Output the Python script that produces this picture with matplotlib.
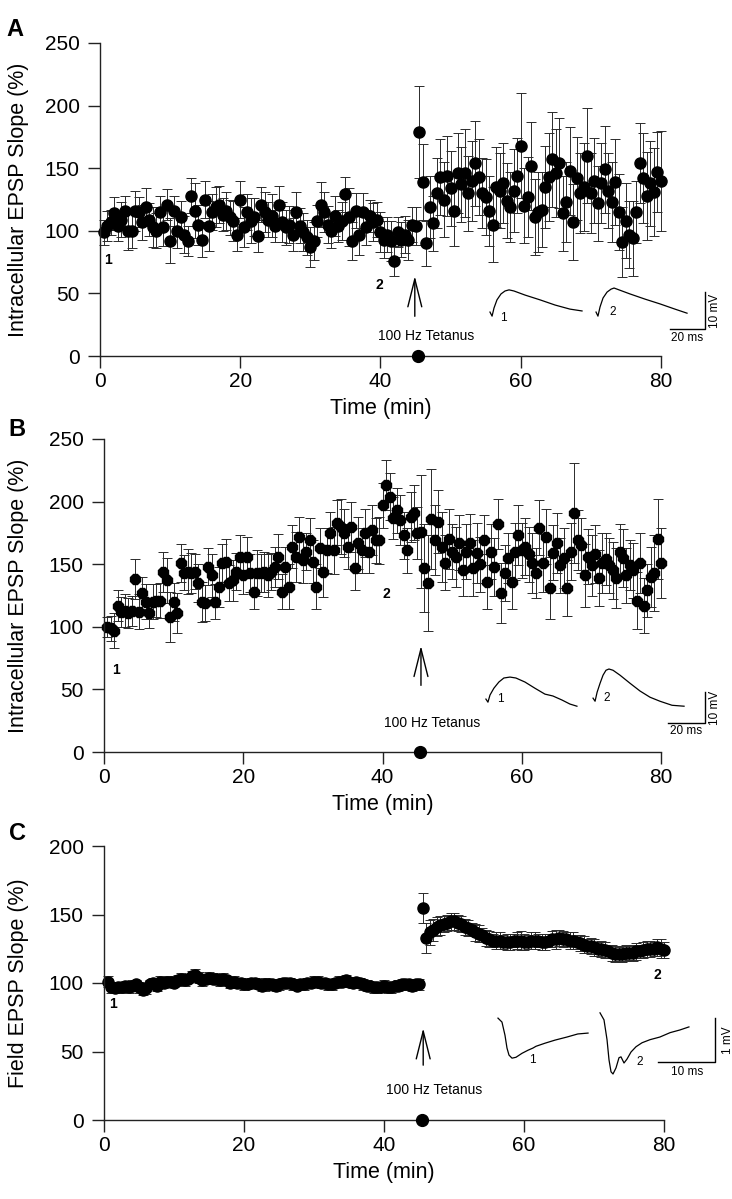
import numpy as np
import matplotlib.pyplot as plt

plt.rcParams['font.family'] = ['Liberation Sans', 'DejaVu Sans']

# EPSP slope (% of baseline), one value every 30 s
a_pre = [99, 104, 107, 114, 104, 109, 116, 100, 100, 116,
         115, 107, 119, 109, 103, 100, 115, 103, 121, 92,
         116, 100, 111, 97, 92, 128, 116, 105, 93, 125,
         104, 115, 119, 121, 113, 116, 111, 108, 97, 125,
         103, 115, 108, 111, 96, 121, 115, 109, 112, 104,
         121, 107, 103, 105, 97, 115, 104, 99, 95, 87,
         92, 108, 121, 115, 105, 100, 112, 104, 108, 129,
         111, 92, 116, 97, 115, 103, 112, 107, 109, 99,
         93, 97, 92, 76, 99, 93, 97, 93, 105, 104]
a_pre_err = [10, 12, 10, 13, 12, 14, 12, 15, 14, 16,
             12, 14, 15, 13, 16, 14, 13, 15, 12, 18,
             12, 14, 13, 15, 12, 14, 22, 16, 14, 15,
             20, 14, 16, 15, 13, 15, 14, 16, 13, 15,
             16, 14, 18, 15, 13, 14, 16, 14, 17, 13,
             15, 16, 14, 15, 13, 16, 14, 15, 14, 16,
             15, 13, 18, 16, 15, 14, 16, 13, 15, 14,
             23, 15, 14, 16, 15, 14, 13, 15, 14, 16,
             15, 14, 16, 12, 12, 14, 15, 16, 14, 15]
a_post = [179, 139, 90, 119, 106, 130, 143, 125, 144, 134,
          116, 146, 137, 146, 130, 140, 154, 143, 130, 127,
          116, 105, 135, 132, 138, 124, 119, 132, 144, 168,
          120, 127, 152, 111, 115, 117, 135, 143, 157, 146,
          154, 114, 123, 148, 107, 142, 130, 135, 160, 130,
          140, 122, 138, 149, 132, 123, 139, 115, 91, 108,
          97, 94, 115, 154, 142, 128, 138, 131, 147, 140]
a_post_err = [37, 30, 18, 25, 22, 28, 30, 30, 32, 30,
              28, 32, 30, 35, 30, 32, 34, 30, 28, 30,
              28, 30, 32, 30, 32, 30, 28, 33, 30, 42,
              30, 32, 35, 30, 32, 30, 33, 35, 38, 35,
              36, 30, 32, 35, 30, 33, 32, 35, 38, 32,
              34, 30, 32, 35, 30, 32, 34, 30, 28, 30,
              27, 30, 25, 32, 36, 35, 34, 35, 32, 40]

b_pre = [100, 99, 97, 117, 112, 113, 111, 113, 138, 112,
         127, 120, 111, 120, 121, 121, 144, 137, 108, 120,
         111, 151, 143, 144, 143, 144, 135, 120, 119, 148,
         141, 120, 132, 151, 152, 135, 137, 144, 156, 141,
         156, 143, 128, 143, 143, 144, 141, 144, 148, 156,
         128, 148, 132, 164, 156, 172, 153, 160, 169, 152,
         132, 163, 144, 161, 175, 161, 183, 180, 175, 164,
         180, 147, 167, 161, 175, 160, 177, 169, 169, 197,
         213, 204, 187, 193, 185, 173, 161, 188, 191, 175]
b_pre_err = [8, 10, 14, 12, 12, 13, 12, 12, 16, 14,
             13, 14, 12, 14, 13, 14, 16, 18, 20, 15,
             16, 15, 14, 18, 16, 14, 15, 16, 14, 15,
             17, 14, 16, 15, 18, 14, 16, 15, 17, 15,
             16, 15, 14, 18, 15, 16, 17, 15, 16, 18,
             14, 16, 18, 17, 20, 16, 18, 15, 18, 17,
             18, 16, 20, 18, 17, 19, 18, 22, 19, 18,
             20, 18, 21, 18, 19, 17, 20, 18, 19, 18,
             20, 19, 17, 18, 20, 19, 18, 20, 22, 21]
b_post = [176, 147, 135, 186, 169, 184, 164, 151, 170, 160,
          156, 167, 145, 160, 167, 147, 159, 150, 169, 136,
          160, 148, 182, 127, 143, 155, 136, 160, 173, 161,
          164, 158, 151, 143, 179, 151, 172, 131, 159, 167,
          149, 155, 131, 160, 191, 169, 165, 141, 156, 149,
          158, 139, 151, 154, 149, 145, 139, 160, 155, 141,
          149, 145, 121, 151, 117, 129, 140, 143, 170, 151]
b_post_err = [45, 35, 38, 40, 28, 25, 28, 22, 24, 22,
              24, 22, 20, 22, 23, 22, 24, 22, 20, 22,
              22, 23, 20, 24, 22, 20, 22, 23, 24, 22,
              23, 22, 24, 20, 22, 23, 22, 25, 22, 24,
              22, 24, 22, 23, 40, 24, 22, 25, 22, 24,
              23, 22, 24, 21, 22, 23, 24, 22, 23, 22,
              20, 22, 23, 24, 22, 21, 24, 30, 32, 28]

c_pre = [101, 97, 96, 97, 97, 98, 97, 98, 99, 97,
         95, 96, 99, 100, 98, 101, 100, 101, 101, 100,
         102, 103, 102, 103, 105, 106, 104, 102, 103, 104,
         103, 103, 102, 103, 102, 100, 101, 100, 100, 99,
         99, 100, 100, 99, 98, 99, 99, 99, 98, 99,
         100, 100, 100, 99, 98, 99, 99, 100, 100, 101,
         101, 100, 100, 99, 99, 100, 101, 101, 102, 101,
         100, 101, 100, 99, 98, 98, 97, 97, 97, 98,
         97, 97, 98, 98, 99, 99, 99, 98, 99, 99]
c_pre_err = [4, 4, 3, 4, 4, 3, 4, 4, 3, 4,
             4, 4, 3, 4, 4, 4, 3, 4, 4, 3,
             4, 4, 4, 3, 4, 4, 4, 4, 3, 4,
             4, 3, 4, 4, 3, 4, 4, 3, 4, 4,
             3, 4, 4, 3, 4, 5, 4, 3, 4, 4,
             4, 3, 4, 4, 3, 4, 4, 4, 3, 4,
             4, 4, 3, 4, 4, 3, 4, 4, 4, 3,
             4, 3, 4, 4, 4, 3, 4, 4, 3, 4,
             4, 4, 3, 4, 4, 3, 4, 4, 3, 4]
c_post = [155, 133, 137, 139, 141, 142, 143, 144, 145, 145,
          144, 143, 141, 140, 139, 137, 136, 135, 133, 132,
          131, 131, 131, 130, 130, 130, 131, 131, 131, 130,
          130, 131, 131, 131, 130, 130, 131, 132, 132, 133,
          132, 132, 131, 131, 130, 129, 128, 127, 127, 126,
          125, 125, 124, 123, 122, 121, 121, 121, 122, 122,
          122, 123, 123, 124, 125, 125, 125, 126, 125, 124]
c_post_err = [11, 11, 9, 8, 7, 7, 6, 6, 6, 6,
              6, 6, 6, 6, 5, 6, 6, 5, 6, 6,
              5, 6, 6, 5, 6, 6, 5, 6, 7, 6,
              5, 6, 6, 5, 6, 6, 5, 6, 7, 6,
              6, 5, 6, 6, 5, 6, 6, 5, 6, 6,
              5, 6, 6, 5, 6, 6, 5, 6, 6, 5,
              6, 6, 5, 6, 6, 6, 5, 6, 7, 6]

t_pre = np.arange(0.5, 45.01, 0.5)
t_post = np.arange(45.5, 80.01, 0.5)
tetanus_min = 45.4

# sample traces: time (ms) and voltage (mV) from stimulus artefact onset
a1_t = [0, 1.2, 2.3, 4.0, 6.3, 8.6, 10.9, 13.7, 20.0, 28.6, 37.2, 45.7, 52.6]
a1_v = [0, -1.1, 1.1, 3.3, 4.9, 5.7, 6.0, 5.7, 4.6, 3.3, 1.9, 0.8, 0.3]
a2_t = [0, 1.1, 2.3, 4.0, 6.3, 8.6, 10.3, 13.7, 19.4, 28.0, 36.6, 45.1, 52.0]
a2_v = [0, -1.1, 1.4, 3.8, 5.4, 6.2, 6.5, 5.9, 4.9, 3.5, 2.2, 0.8, -0.3]
b1_t = [0, 1.1, 2.2, 4.3, 7.0, 9.7, 13.0, 16.2, 21.1, 26.5, 31.9, 36.2, 41.1, 45.4, 49.2]
b1_v = [0, -1.0, 1.3, 3.5, 5.5, 6.8, 7.1, 6.8, 5.5, 3.5, 1.6, 1.0, -0.3, -1.6, -2.3]
b2_t = [0, 1.1, 2.2, 3.8, 5.4, 7.0, 8.6, 10.8, 14.6, 20.0, 25.4, 30.8, 36.2, 42.7, 49.2]
b2_v = [0, -1.0, 1.9, 4.8, 7.4, 9.0, 9.4, 9.0, 7.4, 4.8, 2.3, 0.3, -1.0, -2.3, -2.6]
c1_t = [0, 0.70, 1.23, 1.58, 1.93, 2.46, 3.16, 4.21, 5.26, 6.14, 6.67, 8.25, 10.0, 12.1, 14.0, 15.8]
c1_v = [0, -0.09, -0.39, -0.68, -0.84, -0.91, -0.89, -0.80, -0.73, -0.68, -0.64, -0.57,
        -0.50, -0.43, -0.36, -0.34]
c2_t = [0, 0.70, 1.23, 1.58, 1.93, 2.28, 2.81, 3.33, 3.68, 4.21, 4.74, 5.44, 6.32, 7.37,
        8.77, 10.5, 12.3, 14.0, 15.6]
c2_v = [0, -0.16, -0.61, -1.07, -1.34, -1.39, -1.25, -1.02, -1.00, -1.14, -1.05, -0.89,
        -0.77, -0.68, -0.61, -0.55, -0.45, -0.39, -0.32]

W, H = 732, 1199
fig = plt.figure(figsize=(W / 100, H / 100), dpi=100)


def px_axes(x0, y_top, x1, y_bottom):
    return fig.add_axes([x0 / W, 1 - y_bottom / H, (x1 - x0) / W, (y_bottom - y_top) / H])


def panel(ax, pre, pre_err, post, post_err, marker, ms, ymax, ylabel, lab_x):
    for t, y, e in [(t_pre, pre, pre_err), (t_post, post, post_err)]:
        cont = ax.errorbar(t, y, yerr=e, fmt=marker, ms=ms, mfc='black', mec='black',
                           ecolor='#2a2a2a', elinewidth=0.7, capsize=3.5, capthick=0.7)
        for art in cont.get_children():
            art.set_clip_on(False)
    ax.plot([tetanus_min], [0], 'o', color='black', ms=8.5, clip_on=False, zorder=5)
    ax.set_xlim(0, 89)
    ax.set_ylim(0, ymax)
    ax.set_xticks([0, 20, 40, 60, 80])
    ax.set_yticks(np.arange(0, ymax + 1, 50))
    for s in ['top', 'right']:
        ax.spines[s].set_visible(False)
    ax.spines['left'].set_bounds(0, ymax)
    ax.spines['bottom'].set_bounds(0, 80)
    for s in ['left', 'bottom']:
        ax.spines[s].set_linewidth(1.0)
        ax.spines[s].set_color('#222222')
    ax.tick_params(axis='both', direction='out', length=8.5, width=1.0, color='#222222',
                   labelsize=15)
    ax.tick_params(axis='y', pad=6)
    ax.tick_params(axis='x', pad=3)
    ax.set_ylabel(ylabel, fontsize=15.5)
    ax.set_xlabel('Time (min)', fontsize=15.5)
    h = ax.get_position().height * H
    ax.yaxis.set_label_coords(lab_x, 0.5)
    ax.xaxis.set_label_coords(40 / 89, -42 / h)


def tetanus(ax, x, y0, y1, ytext):
    ax.annotate('', xy=(x, y1), xytext=(x, y0),
                arrowprops=dict(arrowstyle='->,head_length=2.0,head_width=0.5',
                                mutation_scale=10, lw=1.0, color='black'))
    ax.text(x + 1.6, ytext, '100 Hz Tetanus', fontsize=10, ha='center', va='center')


def trace_axes(x0, y_bottom, width, height, px_ms, px_mv):
    ax = fig.add_axes([x0 / W, 1 - y_bottom / H, width / W, height / H])
    ax.set_xlim(0, width / px_ms)
    ax.set_ylim(0, height / px_mv)
    ax.axis('off')
    return ax


def scale_bar(ax, x, y, dx, dy, xlab, ylab):
    ax.plot([x, x + dx, x + dx], [y, y, y + dy], color='black', lw=1.0)
    ax.text(x + dx / 2, y - dy * 0.08, xlab, fontsize=8.5, ha='center', va='top')
    ax.text(x + dx + dx * 0.12, y + dy / 2, ylab, fontsize=8.5, ha='left', va='center',
            rotation=90)


# ---------------- Panel A ----------------
axA = px_axes(100, 43, 724, 356)
panel(axA, a_pre, a_pre_err, a_post, a_post_err, 'o', 8, 250,
      'Intracellular EPSP Slope (%)', (29 - 100) / 624)
tetanus(axA, 44.9, 29.5, 66, 16)
axA.text(1.1, 77, '1', fontsize=10, fontweight='bold', ha='center', va='center')
axA.text(39.8, 57, '2', fontsize=10, fontweight='bold', ha='center', va='center')
fig.text(15 / W, 1 - 30 / H, 'A', fontsize=17, fontweight='bold', ha='center', va='center')

tA = trace_axes(480, 345, 250, 70, 1.75, 3.7)
tA.plot(np.array(a1_t) + 5.7, np.array(a1_v) + 8.9, color='black', lw=0.9)
tA.plot(np.array(a2_t) + 66.3, np.array(a2_v) + 8.9, color='black', lw=0.9)
tA.text(13.1, 7.3, '1', fontsize=8.5, ha='center', va='center')
tA.text(76.0, 8.9, '2', fontsize=8.5, ha='center', va='center')
scale_bar(tA, 108.6, 4.3, 20, 10, '20 ms', '10 mV')

# ---------------- Panel B ----------------
axB = px_axes(104, 439, 724, 752)
panel(axB, b_pre, b_pre_err, b_post, b_post_err, '8', 8.5, 250,
      'Intracellular EPSP Slope (%)', (29 - 104) / 620)
tetanus(axB, 45.5, 51, 87, 23)
axB.text(1.7, 65.5, '1', fontsize=10, fontweight='bold', ha='center', va='center')
axB.text(40.5, 126, '2', fontsize=10, fontweight='bold', ha='center', va='center')
fig.text(17 / W, 1 - 429 / H, 'B', fontsize=17, fontweight='bold', ha='center', va='center')

tB = trace_axes(475, 740, 255, 90, 1.85, 3.1)
tB.plot(np.array(b1_t) + 5.9, np.array(b1_v) + 13.2, color='black', lw=0.9)
tB.plot(np.array(b2_t) + 63.8, np.array(b2_v) + 13.5, color='black', lw=0.9)
tB.text(13.5, 13.2, '1', fontsize=8.5, ha='center', va='center')
tB.text(71.4, 13.5, '2', fontsize=8.5, ha='center', va='center')
scale_bar(tB, 104.3, 5.5, 20, 10, '20 ms', '10 mV')

# ---------------- Panel C ----------------
axC = px_axes(104, 846, 727, 1120)
panel(axC, c_pre, c_pre_err, c_post, c_post_err, 'o', 8, 200,
      'Field EPSP Slope (%)', (29 - 104) / 623)
tetanus(axC, 45.6, 38, 69, 22)
axC.text(1.3, 85, '1', fontsize=10, fontweight='bold', ha='center', va='center')
axC.text(79, 106, '2', fontsize=10, fontweight='bold', ha='center', va='center')
fig.text(17 / W, 1 - 833 / H, 'C', fontsize=17, fontweight='bold', ha='center', va='center')

tC = trace_axes(490, 1085, 240, 90, 5.7, 44)
tC.plot(np.array(c1_t) + 1.4, np.array(c1_v) + 1.52, color='black', lw=0.9)
tC.plot(np.array(c2_t) + 19.3, np.array(c2_v) + 1.64, color='black', lw=0.9)
tC.text(7.5, 0.57, '1', fontsize=8.5, ha='center', va='center')
tC.text(26.3, 0.52, '2', fontsize=8.5, ha='center', va='center')
scale_bar(tC, 29.5, 0.52, 10, 1, '10 ms', '1 mV')

fig.savefig('out.png', dpi=100)
